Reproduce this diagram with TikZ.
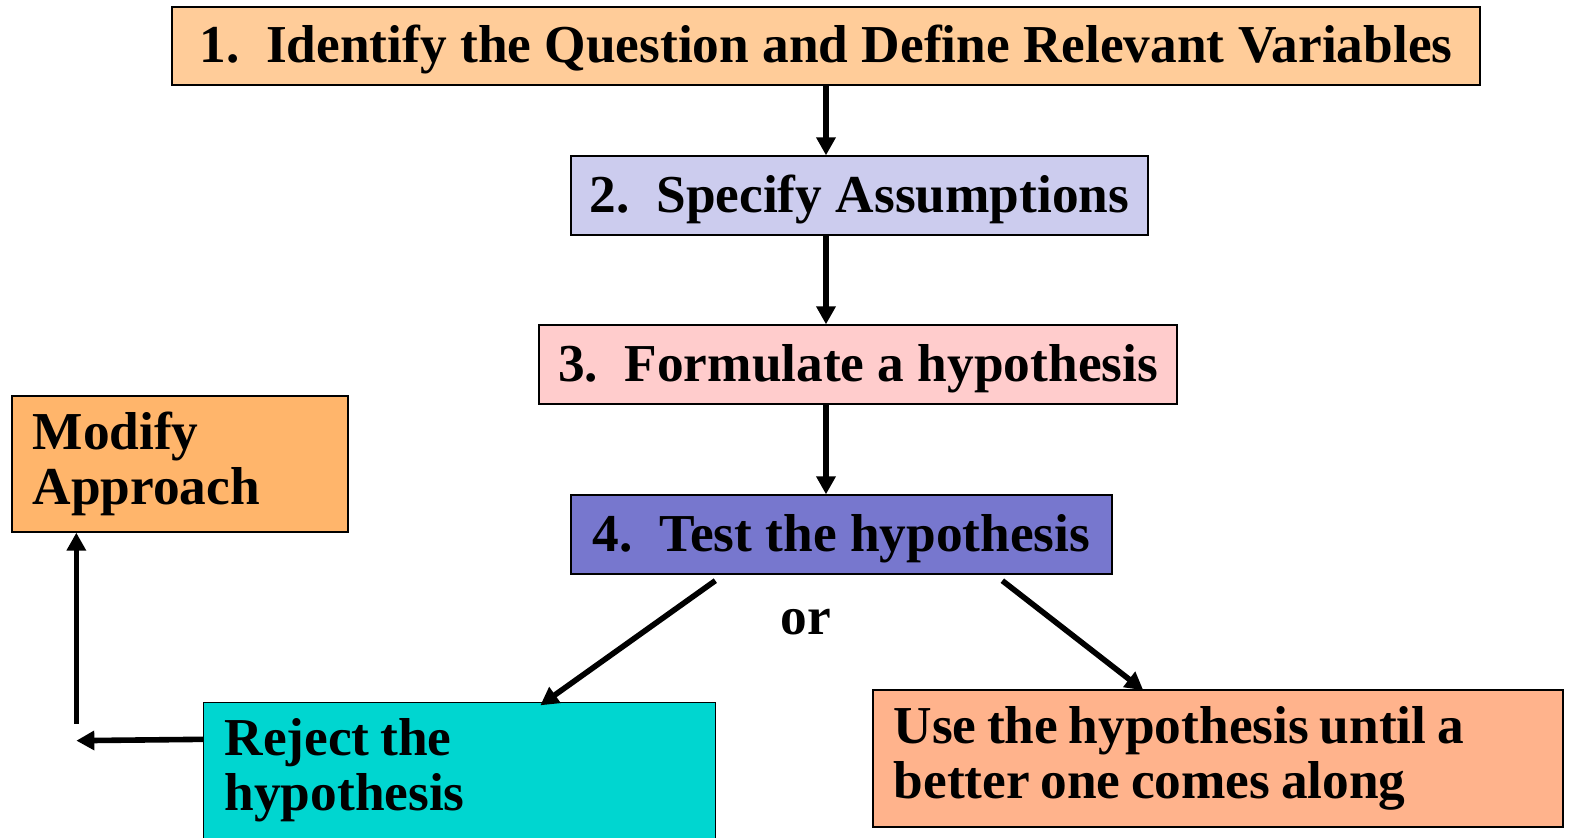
\documentclass[tikz,border=0pt]{standalone}
\usepackage{fontspec}
\setmainfont{Liberation Serif}
\usetikzlibrary{calc,arrows.meta}
\definecolor{cOne}{RGB}{255,204,153}
\definecolor{cTwo}{RGB}{204,204,238}
\definecolor{cThree}{RGB}{255,204,204}
\definecolor{cFour}{RGB}{119,119,206}
\definecolor{cMod}{RGB}{255,181,107}
\definecolor{cRej}{RGB}{0,214,208}
\definecolor{cUse}{RGB}{255,179,140}
\tikzset{
  txt/.style={font=\fontsize{40}{41.5}\selectfont\bfseries},
  box/.style={txt, draw=black, line width=1pt, inner sep=0pt},
  sbox/.style={box, text height=33pt, text depth=7.5pt},
  lbox/.style={box, align=left, inner xsep=15.5pt, execute at begin node={\spaceskip=0.2em\relax}},
  arr/.style={line width=4.2pt, -{Triangle[length=13.5pt,width=14pt]}},
  lab/.style={txt, inner sep=0pt}
}
\begin{document}
\begin{tikzpicture}[x=0.75pt,y=-0.75pt]
\useasboundingbox (0,0) rectangle (1572,838);
\node[sbox, fill=cOne, minimum width=981pt, minimum height=58.5pt] (b1) at (826,46) {1.\ \ Identify the Question and Define Relevant Variables};
\node[sbox, fill=cTwo, minimum width=432.75pt, minimum height=59.25pt] (b2) at (859.5,195.5) {2.\ \ Specify Assumptions};
\node[sbox, fill=cThree, minimum width=478.5pt, minimum height=59.25pt] (b3) at (858,364.5) {3.\ \ Formulate a hypothesis};
\node[sbox, fill=cFour, minimum width=405.75pt, minimum height=59.25pt] (b4) at (841.5,534.5) {4.\ \ Test the hypothesis};
\node[lbox, fill=cMod, minimum width=252pt, minimum height=102pt, text width=221pt] (mod) at (180,464) {Modify\\Approach};
\node[lbox, draw=none, fill=cRej, minimum width=383.25pt, minimum height=101.25pt, text width=352.25pt] (rej) at (459.5,770.5) {Reject the\\hypothesis};
\draw[line width=1pt] ($(rej.south west)+(0,10)$) |- (rej.north east) -- ($(rej.south east)+(0,10)$);
\node[lbox, fill=cUse, minimum width=517.5pt, minimum height=102.75pt, text width=486.5pt] (use) at (1218,758.5) {Use the hypothesis until a\\better one comes along};
\node[lab] (or) at (806,622) {or};
\coordinate (corner) at ($(mod.south west)+(65,208)$);
\draw[arr] (b1.south) -- (b1.south |- b2.north);
\draw[arr] (b1.south |- b2.south) -- (b1.south |- b3.north);
\draw[arr] (b1.south |- b3.south) -- (b1.south |- b4.north);
\draw[arr] ($(b4.south west)+(145,6)$) -- ($(rej.north west)+(337,3)$);
\draw[arr] ($(b4.south west)+(432,6)$) -- ($(use.north west)+(271,1)$);
\draw[arr] ($(rej.north west)+(0,37)$) -- (corner);
\draw[arr] ($(corner)+(0,-17)$) -- ($(mod.south west)+(65,0)$);
\end{tikzpicture}
\end{document}
